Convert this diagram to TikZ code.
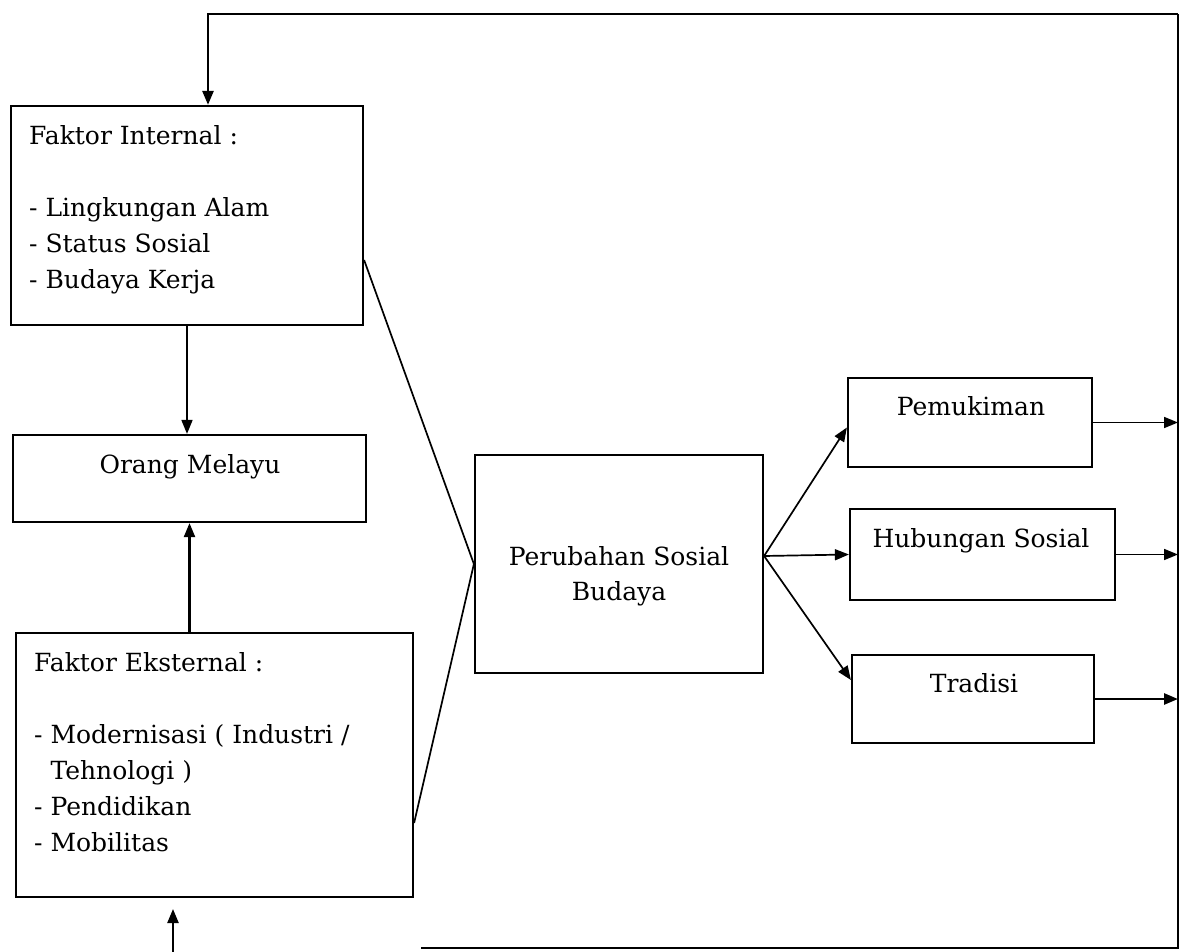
\documentclass[tikz,border=0pt]{standalone}
\usepackage{fontspec}
\setmainfont{DejaVu Serif}
\usetikzlibrary{arrows.meta}

\begin{document}
\begin{tikzpicture}[x=1pt, y=-1pt]
	\tikzset{box/.style={rectangle, draw=black, line width=2.2pt, inner sep=0pt}};
	\tikzset{txt/.style={inner sep=0pt, font=\fontsize{25}{36}\selectfont}};
	\tikzset{arr/.style={line width=1.7pt, -{Triangle[length=14pt, width=11pt]}}};

	\useasboundingbox (0,0) rectangle (1184,952);

	% boxes
	\node[box, minimum width=352pt, minimum height=219pt] (internal) at (187, 215.5) {};
	\node[box, minimum width=353pt, minimum height=87pt] (orang) at (189.5, 478.5) {};
	\node[box, minimum width=397pt, minimum height=264pt] (external) at (214.5, 765) {};
	\node[box, minimum width=288pt, minimum height=218pt] (perubahan) at (619, 564) {};
	\node[box, minimum width=244pt, minimum height=89pt] (pemukiman) at (970, 422.5) {};
	\node[box, minimum width=265pt, minimum height=91pt] (hubungan) at (982.5, 554.5) {};
	\node[box, minimum width=242pt, minimum height=88pt] (tradisi) at (973, 699) {};

	% texts
	\node[txt, align=left, anchor=north west] (internaltxt) at (29, 125) {Faktor Internal :\\[36pt]- Lingkungan Alam\\- Status Sosial\\- Budaya Kerja};
	\node[txt, anchor=base] (orangtxt) at (190, 473) {Orang Melayu};
	\node[txt, align=left, anchor=north west] (externaltxt) at (34, 652) {Faktor Eksternal :\\[36pt]- Modernisasi ( Industri /\\\hphantom{- }Tehnologi )\\- Pendidikan\\- Mobilitas};
	\node[txt, align=center, anchor=north, font=\fontsize{25}{35}\selectfont] (perubahantxt) at (619, 546) {Perubahan Sosial\\Budaya};
	\node[txt, anchor=base] (pemukimantxt) at (971, 415) {Pemukiman};
	\node[txt, anchor=base] (hubungantxt) at (981, 547) {Hubungan Sosial};
	\node[txt, anchor=base] (tradisitxt) at (974, 692) {Tradisi};

	% outer loop
	\coordinate (topleft) at (208, 14);
	\coordinate (topright) at (1178, 14);
	\coordinate (botright) at (1178, 948);
	\coordinate (botleft) at (421, 948);
	\coordinate (extin) at (173, 952);
	\coordinate (extup) at (173, 909);
	\coordinate (fork) at ([yshift=8pt]perubahan.east);

	\draw[line width=2.6pt] (botleft) -- (botright) -- (topright);
	\draw[arr, line width=2.6pt] (topright) -- (topleft) -- (topleft |- internal.north);

	\draw[arr] (internal.south) -- (internal.south |- orang.north);
	\draw[arr, line width=2.2pt] (orang.south |- external.north) -- (orang.south);
	\draw[arr, line width=2.2pt] (extin) -- (extup);

	\draw[line width=1.7pt] (internal.east |- 0, 260) -- (perubahan.west);
	\draw[line width=1.7pt] (external.east |- 0, 823) -- (perubahan.west);

	\draw[arr] (fork) -- ([yshift=-5pt]pemukiman.west);
	\draw[arr] (fork) -- (hubungan.west);
	\draw[arr] (fork) -- ([yshift=19pt]tradisi.west);

	\draw[arr] (pemukiman.east) -- (pemukiman.east -| botright);
	\draw[arr] (hubungan.east) -- (hubungan.east -| botright);
	\draw[arr, line width=2.6pt] (tradisi.east) -- (tradisi.east -| botright);
\end{tikzpicture}
\end{document}
